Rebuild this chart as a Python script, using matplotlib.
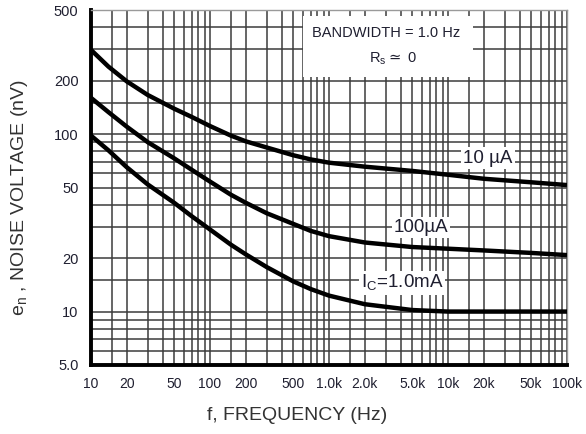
import matplotlib
matplotlib.use("Agg")
import matplotlib.pyplot as plt
from matplotlib.patches import Rectangle

plt.rcParams['font.family'] = ['Liberation Sans', 'DejaVu Sans']

# ---- data ----
freq = [10, 14, 20, 30, 50, 70, 100, 150, 200, 300, 500, 700, 1000, 2000,
        5000, 10000, 20000, 50000, 100000]
en_10uA = [298, 240, 198, 166, 139, 125, 111, 98, 91, 84, 76, 72, 69, 65.5,
           62, 59, 56, 53.5, 51.6]
en_100uA = [160, 133, 110, 90, 73, 63, 54, 45.5, 41, 35.8, 31.2, 28.5, 26.6, 24.5,
            23.1, 22.6, 22.1, 21.4, 20.8]
en_1mA = [98, 81, 65, 52, 41, 34.5, 29, 23.8, 21, 17.8, 14.8, 13.4, 12.3, 11,
          10.2, 10.0, 10.0, 10.0, 10.0]

x_ticks = [10, 20, 50, 100, 200, 500, 1000, 2000, 5000, 10000, 20000, 50000, 100000]
x_ticklabels = ["10", "20", "50", "100", "200", "500", "1.0k", "2.0k", "5.0k",
                "10k", "20k", "50k", "100k"]
y_ticks = [5, 10, 20, 50, 100, 200, 500]
y_ticklabels = ["5.0", "10", "20", "50", "100", "200", "500"]

curve_labels = ["10 µA", "100µA", r"I$_\mathregular{C}$=1.0mA"]
label_pos = [(21700, 73.3), (5930, 29.6), (4100, 14.5)]

# ---- figure ----
fig = plt.figure(figsize=(5.86, 4.34), dpi=100)
ax = fig.add_axes([91/586, 69/434, 476/586, 355/434])
ax.set_xscale('log')
ax.set_yscale('log')
ax.set_xlim(10, 100000)
ax.set_ylim(5, 500)

x_minor = []
for d in [10, 100, 1000, 10000]:
    for m in [1.5, 3, 4, 6, 7, 8, 9]:
        x_minor.append(d * m)
y_minor = [6, 7, 8, 9, 15, 30, 40, 60, 70, 80, 90, 150, 300, 400]

ax.set_xticks(x_ticks)
ax.set_xticklabels(x_ticklabels)
ax.set_xticks(x_minor, minor=True)
ax.set_xticklabels([], minor=True)
ax.set_yticks(y_ticks)
ax.set_yticklabels(y_ticklabels)
ax.set_yticks(y_minor, minor=True)
ax.set_yticklabels([], minor=True)

ax.tick_params(which='both', length=0)
ax.tick_params(axis='x', which='major', pad=9, labelsize=10, labelcolor='#1f1f30')
ax.tick_params(axis='y', which='major', pad=9, labelsize=10.5, labelcolor='#1f1f30')

ax.grid(True, which='both', color='#3c3c3c', linewidth=1.1, zorder=0)
ax.set_axisbelow(True)

for s in ['top', 'right']:
    ax.spines[s].set_color('#9a9a9a')
    ax.spines[s].set_linewidth(1.0)
for s in ['left', 'bottom']:
    ax.spines[s].set_color('black')
    ax.spines[s].set_linewidth(2.8)

# white info box
ax.add_patch(Rectangle((0.445, 0.811), 0.358, 0.172, transform=ax.transAxes,
                       facecolor='white', edgecolor='none', zorder=1.5))
ax.text(0.62, 0.935, "BANDWIDTH = 1.0 Hz", transform=ax.transAxes,
        ha='center', va='center', fontsize=10.5, color='#1f1f30', zorder=3)
ax.text(0.634, 0.862, r"R$_\mathregular{s}\simeq$ 0", transform=ax.transAxes,
        ha='center', va='center', fontsize=10.5, color='#1f1f30', zorder=3)

for e in [en_10uA, en_100uA, en_1mA]:
    ax.plot(freq, e, color='black', linewidth=3.2, solid_joinstyle='round',
            solid_capstyle='butt', zorder=4)

for lab, (fx, fy) in zip(curve_labels, label_pos):
    ax.text(fx, fy, lab, ha='center', va='center', fontsize=13.5, color='#1f1f30',
            zorder=5, bbox=dict(facecolor='white', edgecolor='none', pad=1.5))

fig.text(297/586, 1 - 415/434, "f, FREQUENCY (Hz)", ha='center', va='center',
         fontsize=14, color='#333333')
fig.text(20/586, 1 - 198/434, r"e$_\mathregular{n}$ , NOISE VOLTAGE (nV)",
         ha='center', va='center', rotation=90, fontsize=14, color='#333333')

fig.savefig("out.png", dpi=100)
